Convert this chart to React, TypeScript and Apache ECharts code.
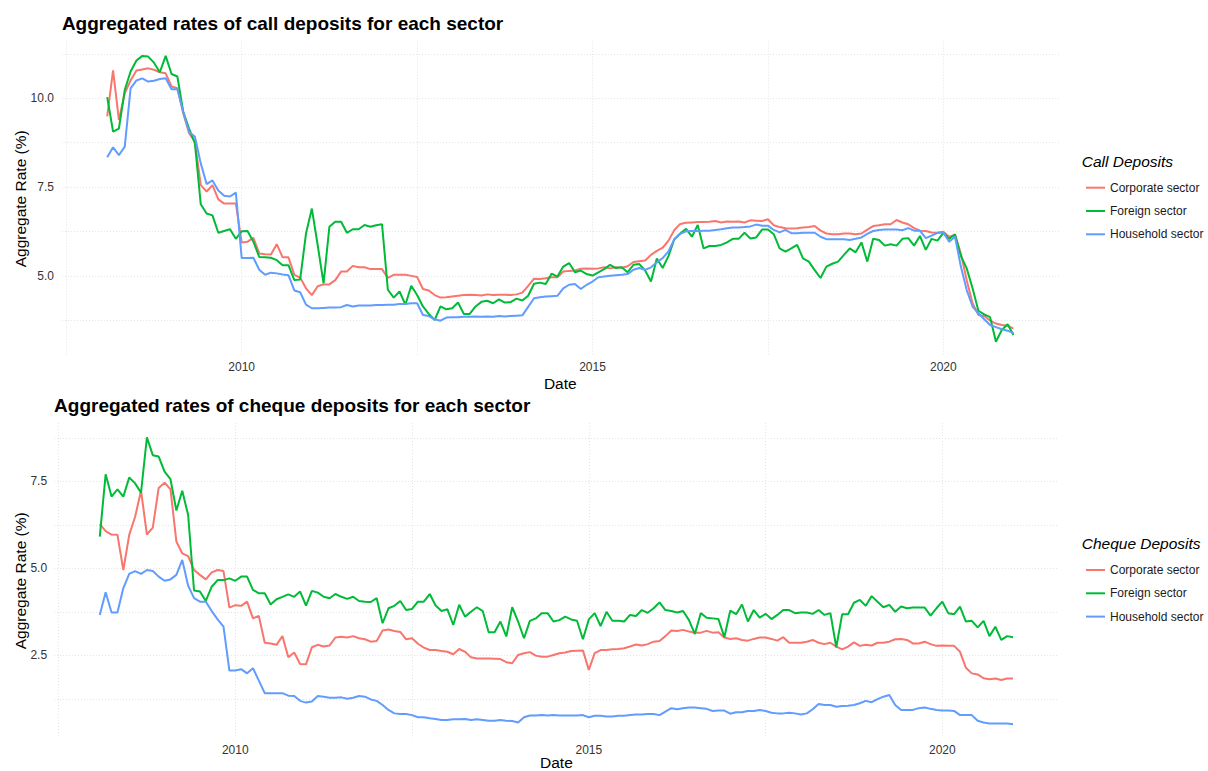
import React, { useEffect, useRef } from "react";
import * as echarts from "echarts";

// Monthly observations, end of month, Jan 2008 .. Dec 2020
const months: number[] = Array.from({ length: 156 }, (_, i) => 2008 + (i + 1) / 12);

const sectors = ["Corporate sector", "Foreign sector", "Household sector"];
const colors = ["#F8766D", "#00BA38", "#619CFF"];

const xGridValues = [2007.5, 2010, 2012.5, 2015, 2017.5, 2020];
const xLabelValues = [2010, 2015, 2020];
const callGridValues = [3.75, 5, 6.25, 7.5, 8.75, 10, 11.25];
const callLabelValues = [5, 7.5, 10];
const chequeGridValues = [1.25, 2.5, 3.75, 5, 6.25, 7.5, 8.75];
const chequeLabelValues = [2.5, 5, 7.5];

const callCorporate = [9.49,10.78,9.39,10.14,10.5,10.78,10.81,10.84,10.8,10.73,
10.7,10.33,10.28,9.58,9.02,8.78,7.56,7.38,7.56,7.16,
7.04,7.04,7.04,5.95,5.97,6.08,5.64,5.62,5.61,5.9,
5.53,5.53,5.04,4.96,4.66,4.47,4.72,4.77,4.77,4.89,
5.13,5.13,5.29,5.25,5.25,5.2,5.2,5.2,4.95,5.04,
5.04,5.04,5.01,4.98,4.64,4.6,4.47,4.4,4.41,4.43,
4.45,4.47,4.48,4.47,4.46,4.49,4.47,4.48,4.48,4.47,
4.49,4.54,4.73,4.93,4.92,4.94,4.97,4.97,5.13,5.15,
5.16,5.21,5.22,5.21,5.22,5.25,5.22,5.25,5.24,5.28,
5.4,5.42,5.44,5.6,5.71,5.8,6.0,6.3,6.47,6.5,
6.51,6.52,6.52,6.53,6.55,6.51,6.54,6.53,6.54,6.51,
6.57,6.56,6.55,6.6,6.43,6.38,6.35,6.34,6.35,6.37,
6.38,6.41,6.28,6.2,6.18,6.18,6.2,6.2,6.18,6.2,
6.31,6.41,6.43,6.46,6.46,6.58,6.51,6.46,6.35,6.28,
6.27,6.23,6.22,6.25,6.11,6.16,5.64,4.89,4.24,3.91,
3.88,3.75,3.67,3.63,3.61,3.53];

const callForeign = [10.03,9.06,9.15,10.23,10.75,11.06,11.19,11.17,11.0,10.73,
11.19,10.68,10.61,9.62,9.15,8.73,7.02,6.76,6.71,6.22,
6.27,6.32,6.05,6.26,6.27,5.97,5.54,5.53,5.52,5.45,
5.31,5.31,4.89,4.91,6.2,6.9,5.87,4.8,6.39,6.53,
6.53,6.22,6.32,6.32,6.44,6.39,6.43,6.46,4.62,4.4,
4.57,4.2,4.73,4.47,4.15,3.94,3.77,4.15,4.07,4.1,
4.26,3.94,3.94,4.15,4.28,4.31,4.24,4.35,4.26,4.27,
4.37,4.32,4.45,4.79,4.82,4.78,5.07,4.99,5.27,5.37,
5.11,5.16,5.06,5.02,5.11,5.2,5.32,5.23,5.25,5.11,
5.32,5.34,5.16,4.85,5.5,5.23,5.57,6.04,6.2,6.33,
6.11,6.44,5.78,5.85,5.85,5.88,5.95,6.05,6.05,6.22,
6.06,6.09,6.31,6.31,6.18,5.78,5.69,5.78,5.88,5.5,
5.41,5.17,4.95,5.27,5.35,5.41,5.6,5.78,5.67,5.95,
5.41,6.05,6.02,5.86,5.9,5.86,6.05,6.07,5.86,6.13,
5.74,6.05,6.0,6.22,6.05,6.18,5.57,5.22,4.66,4.03,
3.93,3.85,3.16,3.49,3.65,3.35];

const callHousehold = [8.34,8.62,8.4,8.64,10.28,10.5,10.56,10.47,10.49,10.54,
10.56,10.25,10.25,9.62,9.06,8.92,8.17,7.59,7.69,7.41,
7.26,7.24,7.35,5.51,5.51,5.52,5.18,5.04,5.1,5.08,
5.05,5.03,4.6,4.55,4.2,4.1,4.1,4.11,4.12,4.12,
4.13,4.19,4.15,4.18,4.18,4.18,4.19,4.19,4.2,4.2,
4.22,4.22,4.24,4.24,3.91,3.88,3.79,3.75,3.84,3.85,
3.85,3.86,3.86,3.87,3.86,3.87,3.86,3.88,3.87,3.88,
3.89,3.9,4.14,4.38,4.41,4.43,4.44,4.45,4.66,4.76,
4.78,4.64,4.76,4.85,4.97,4.99,5.01,5.03,5.04,5.06,
5.18,5.23,5.18,5.25,5.39,5.51,5.7,6.04,6.19,6.26,
6.27,6.27,6.28,6.28,6.3,6.32,6.35,6.37,6.37,6.38,
6.4,6.45,6.42,6.42,6.3,6.23,6.3,6.21,6.21,6.22,
6.22,6.22,6.11,6.04,6.04,6.04,6.04,6.02,6.05,6.09,
6.19,6.27,6.3,6.31,6.31,6.31,6.29,6.35,6.28,6.28,
6.07,6.14,6.22,6.23,5.97,6.11,5.27,4.61,4.15,3.96,
3.79,3.63,3.57,3.51,3.47,3.4];

const chequeCorporate = [6.27,6.07,5.97,5.96,4.95,5.96,6.48,7.23,5.97,6.17,
7.31,7.46,7.27,5.77,5.43,5.35,4.95,4.81,4.68,4.88,
4.95,4.92,3.87,3.94,3.92,4.04,3.56,3.63,2.86,2.84,
2.8,3.05,2.44,2.58,2.25,2.24,2.73,2.8,2.75,2.78,
3.01,3.03,3.01,3.05,2.99,2.96,2.89,2.91,3.21,3.24,
3.2,3.17,2.96,2.99,2.83,2.72,2.65,2.65,2.62,2.6,
2.53,2.68,2.6,2.44,2.41,2.41,2.41,2.4,2.39,2.3,
2.27,2.51,2.56,2.59,2.49,2.46,2.46,2.51,2.56,2.58,
2.62,2.63,2.64,2.08,2.56,2.65,2.65,2.67,2.68,2.7,
2.75,2.81,2.78,2.82,2.89,2.91,3.05,3.21,3.2,3.23,
3.18,3.15,3.15,3.2,3.15,3.16,3.01,2.97,2.99,2.94,
2.92,2.97,3.01,3.01,2.97,2.92,3.02,2.86,2.86,2.86,
2.89,2.94,2.86,2.82,2.86,2.75,2.67,2.75,2.87,2.77,
2.8,2.78,2.86,2.86,2.89,2.96,2.97,2.94,2.84,2.84,
2.89,2.82,2.77,2.78,2.77,2.77,2.6,2.14,1.98,1.95,
1.84,1.81,1.83,1.79,1.83,1.83];

const chequeForeign = [5.91,7.7,7.06,7.27,7.06,7.61,7.44,7.17,8.76,8.25,
8.21,7.78,7.56,6.66,7.23,6.53,4.36,4.33,4.06,4.47,
4.66,4.66,4.71,4.64,4.76,4.76,4.38,4.28,4.28,3.96,
4.11,4.18,4.25,4.18,4.33,3.93,4.35,4.3,4.18,4.14,
4.26,4.18,4.12,4.18,4.06,4.04,4.03,4.14,3.42,3.85,
3.92,4.06,3.8,3.83,4.04,4.04,4.26,3.93,3.77,3.82,
3.37,3.95,3.61,3.75,3.88,3.77,3.16,3.16,3.47,3.04,
3.88,3.47,2.99,3.49,3.56,3.71,3.71,3.47,3.51,3.61,
3.53,3.49,2.96,3.53,3.71,3.34,3.75,3.49,3.49,3.47,
3.66,3.63,3.8,3.72,3.85,4.02,3.8,3.77,3.73,3.77,
3.51,3.11,3.71,3.58,3.56,3.54,3.02,3.78,3.68,3.96,
3.47,3.8,3.58,3.69,3.54,3.66,3.8,3.8,3.71,3.73,
3.73,3.69,3.8,3.66,3.71,2.73,3.68,3.68,4.01,4.09,
3.92,4.2,4.04,3.88,3.95,3.75,3.9,3.85,3.87,3.87,
3.87,3.64,3.85,4.04,3.71,3.68,3.9,3.47,3.49,3.3,
3.49,3.05,3.32,2.94,3.05,3.02];

const chequeHousehold = [3.66,4.31,3.73,3.73,4.43,4.84,4.92,4.84,4.95,4.92,
4.76,4.64,4.68,4.81,5.24,4.5,4.14,4.04,4.04,3.77,
3.53,3.32,2.06,2.06,2.1,1.98,2.13,1.77,1.41,1.41,
1.41,1.41,1.34,1.33,1.19,1.14,1.17,1.33,1.31,1.28,
1.28,1.29,1.25,1.28,1.33,1.31,1.23,1.19,1.07,0.93,
0.83,0.81,0.81,0.78,0.72,0.72,0.69,0.67,0.64,0.64,
0.66,0.66,0.67,0.64,0.66,0.64,0.62,0.62,0.64,0.62,
0.61,0.57,0.72,0.77,0.77,0.78,0.77,0.78,0.77,0.77,
0.77,0.77,0.78,0.72,0.76,0.76,0.74,0.74,0.76,0.76,
0.78,0.8,0.8,0.81,0.81,0.78,0.88,0.98,0.95,0.98,
1.0,1.0,0.98,0.96,0.9,0.91,0.91,0.82,0.86,0.86,
0.9,0.9,0.93,0.9,0.85,0.83,0.83,0.85,0.83,0.8,
0.83,0.95,1.1,1.07,1.07,1.02,1.04,1.05,1.07,1.12,
1.19,1.15,1.24,1.31,1.36,1.07,0.93,0.93,0.93,0.98,
1.0,0.96,0.93,0.91,0.91,0.9,0.78,0.78,0.78,0.62,
0.57,0.54,0.54,0.54,0.54,0.52];

const FONT = "'Liberation Sans', Arial, Helvetica, sans-serif";

function padded(values: number[]): [number, number] {
  let lo = Infinity;
  let hi = -Infinity;
  for (const v of values) {
    if (v < lo) lo = v;
    if (v > hi) hi = v;
  }
  const pad = (hi - lo) * 0.05;
  return [lo - pad, hi + pad];
}

export default function App() {
  const ref = useRef<HTMLDivElement>(null);

  useEffect(() => {
    if (!ref.current) return;
    const chart = echarts.init(ref.current, undefined, { renderer: "svg" });

    const xExt = padded(months);
    const callExt = padded([...callCorporate, ...callForeign, ...callHousehold]);
    const chequeExt = padded([...chequeCorporate, ...chequeForeign, ...chequeHousehold]);

    const gridLine = { show: true, lineStyle: { color: "#e3e3e3", width: 1, type: [1, 2] as any } };

    const makeX = (gridIndex: number) => ({
      type: "value",
      gridIndex,
      min: xExt[0],
      max: xExt[1],
      axisLine: { show: false },
      axisTick: { show: false, customValues: xGridValues },
      splitLine: gridLine,
      axisLabel: {
        customValues: xLabelValues,
        formatter: (v: number) => String(Math.round(v)),
        color: "#333333",
        fontSize: 12,
        fontFamily: FONT,
        margin: 5,
      },
    });

    const makeY = (gridIndex: number, ext: [number, number], grid: number[], labels: number[], margin: number) => ({
      type: "value",
      gridIndex,
      min: ext[0],
      max: ext[1],
      axisLine: { show: false },
      axisTick: { show: false, customValues: grid },
      splitLine: gridLine,
      axisLabel: {
        customValues: labels,
        formatter: (v: number) => v.toFixed(1),
        color: "#333333",
        fontSize: 12,
        fontFamily: FONT,
        margin,
      },
    });

    const callData = [callCorporate, callForeign, callHousehold];
    const chequeData = [chequeCorporate, chequeForeign, chequeHousehold];

    const series: any[] = [];
    [callData, chequeData].forEach((panel, p) => {
      panel.forEach((arr, s) => {
        series.push({
          type: "line",
          name: sectors[s],
          xAxisIndex: p,
          yAxisIndex: p,
          data: months.map((m, i) => [m, arr[i]]),
          showSymbol: false,
          symbol: "none",
          lineStyle: { width: 2, color: colors[s] },
          itemStyle: { color: colors[s] },
          emphasis: { disabled: true },
          z: 2 + s,
        });
      });
    });

    const legendBase = {
      orient: "vertical",
      left: 1081,
      icon: "rect",
      itemWidth: 19,
      itemHeight: 2,
      itemGap: 9.3,
      data: sectors,
      selectedMode: false,
      textStyle: {
        color: "#1a1a1a",
        fontSize: 12,
        fontFamily: FONT,
        lineHeight: 14,
      },
    };

    const textStyle = (t: string, font: string, extra: any = {}) => ({
      text: t,
      font,
      fill: "#000",
      ...extra,
    });

    const option: any = {
      animation: false,
      backgroundColor: "#ffffff",
      grid: [
        { left: 61.9, right: 149.2, top: 41.6, height: 314.4 },
        { left: 54.1, right: 149.3, top: 423.1, height: 315.4 },
      ],
      xAxis: [makeX(0), makeX(1)],
      yAxis: [
        makeY(0, callExt, callGridValues, callLabelValues, 8),
        makeY(1, chequeExt, chequeGridValues, chequeLabelValues, 7),
      ],
      legend: [
        { ...legendBase, top: 175.7 },
        { ...legendBase, top: 558 },
      ],
      series,
      graphic: [
        {
          type: "text",
          left: 61.9,
          top: 14,
          style: textStyle("Aggregated rates of call deposits for each sector", `bold 19px ${FONT}`),
        },
        {
          type: "text",
          left: 54.1,
          top: 396,
          style: textStyle("Aggregated rates of cheque deposits for each sector", `bold 19px ${FONT}`),
        },
        {
          type: "text",
          x: 20.5,
          y: 198.8,
          rotation: Math.PI / 2,
          style: textStyle("Aggregate Rate (%)", `15.5px ${FONT}`, { align: "center", verticalAlign: "middle" }),
        },
        {
          type: "text",
          x: 20.5,
          y: 580.8,
          rotation: Math.PI / 2,
          style: textStyle("Aggregate Rate (%)", `15.5px ${FONT}`, { align: "center", verticalAlign: "middle" }),
        },
        {
          type: "text",
          x: 560.3,
          y: 383,
          style: textStyle("Date", `15.5px ${FONT}`, { align: "center", verticalAlign: "middle" }),
        },
        {
          type: "text",
          x: 556.4,
          y: 762,
          style: textStyle("Date", `15.5px ${FONT}`, { align: "center", verticalAlign: "middle" }),
        },
        {
          type: "text",
          x: 1081.7,
          y: 161.7,
          style: textStyle("Call Deposits", `italic 15.5px ${FONT}`, { align: "left", verticalAlign: "middle" }),
        },
        {
          type: "text",
          x: 1081.7,
          y: 543.3,
          style: textStyle("Cheque Deposits", `italic 15.5px ${FONT}`, { align: "left", verticalAlign: "middle" }),
        },
      ],
    };

    chart.setOption(option);
    return () => chart.dispose();
  }, []);

  return (
    <div
      ref={ref}
      style={{ position: "fixed", left: 0, top: 0, width: 1208, height: 771, background: "#fff" }}
    />
  );
}
